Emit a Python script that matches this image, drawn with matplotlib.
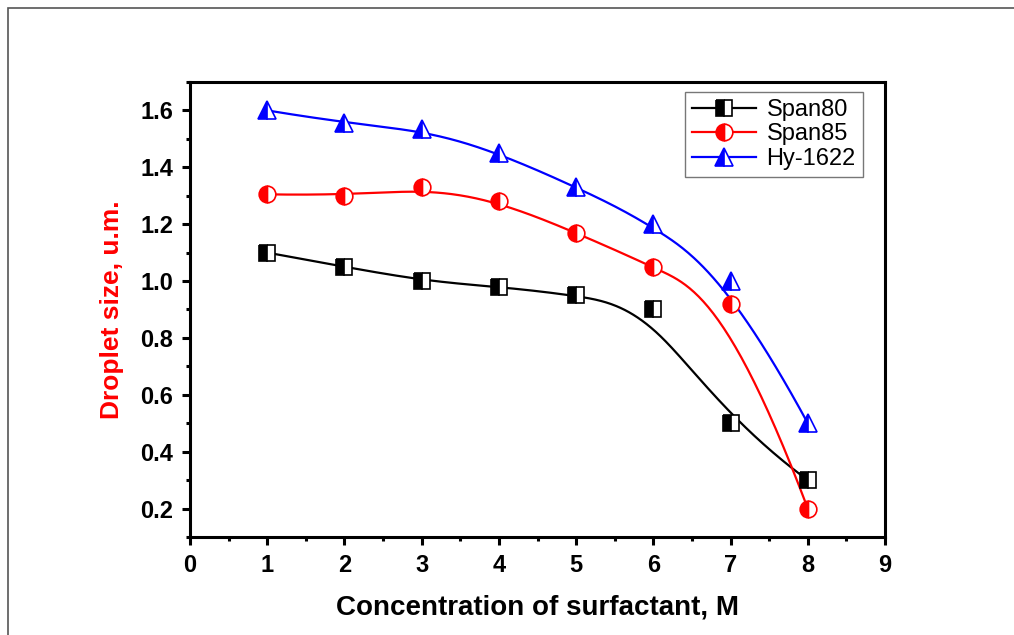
import numpy as np
import matplotlib
matplotlib.use('Agg')
import matplotlib.pyplot as plt
import matplotlib.patches as mpatches

plt.rcParams['font.family'] = ['Liberation Sans', 'DejaVu Sans']

# data
conc = [1, 2, 3, 4, 5, 6, 7, 8]
span80 = [1.10, 1.05, 1.00, 0.98, 0.95, 0.90, 0.50, 0.30]
span85 = [1.305, 1.30, 1.33, 1.28, 1.17, 1.05, 0.92, 0.20]
hy1622 = [1.60, 1.555, 1.535, 1.45, 1.33, 1.20, 1.00, 0.50]


def bspline(px, py, n=400):
    # clamped cubic B-spline using the data points as control points
    px = np.asarray(px, float)
    py = np.asarray(py, float)
    k = 3
    m = len(px)
    knots = np.concatenate([np.zeros(k), np.arange(m - k + 1), np.full(k, m - k)])
    t = np.linspace(0, m - k, n)
    t[-1] -= 1e-9

    def basis(i, p, t):
        if p == 0:
            return ((knots[i] <= t) & (t < knots[i + 1])).astype(float)
        a = 0.0
        d1 = knots[i + p] - knots[i]
        if d1 > 0:
            a = (t - knots[i]) / d1 * basis(i, p - 1, t)
        b = 0.0
        d2 = knots[i + p + 1] - knots[i + 1]
        if d2 > 0:
            b = (knots[i + p + 1] - t) / d2 * basis(i + 1, p - 1, t)
        return a + b

    B = np.array([basis(i, k, t) for i in range(m)])
    return px @ B, py @ B


fig = plt.figure(figsize=(10.14, 6.35), dpi=100)
ax = fig.add_axes([0.1874, 0.1543, 0.6854, 0.7166])

# outer frame
fig.patches.append(mpatches.Rectangle((8 / 1014, -0.1), 1.2, 1 - 8 / 635 + 0.1,
                                      transform=fig.transFigure, fill=False,
                                      edgecolor='#555555', linewidth=1.2))

series = [
    (span80, 'black', 's', 'Span80', 11),
    (span85, 'red', 'o', 'Span85', 12),
    (hy1622, 'blue', '^', 'Hy-1622', 13),
]
handles = []
for ys, col, mk, lab, ms in series:
    sx, sy = bspline(conc, ys)
    ax.plot(sx, sy, color=col, lw=1.6, zorder=2)
    ax.plot(conc, ys, linestyle='none', marker=mk, markersize=ms,
            color=col, markeredgecolor=col, fillstyle='left',
            markerfacecoloralt='white', markeredgewidth=1.2, zorder=3)
    h, = ax.plot([], [], color=col, lw=1.6, marker=mk, markersize=ms,
                 markeredgecolor=col, fillstyle='left',
                 markerfacecoloralt='white', markeredgewidth=1.2, label=lab)
    handles.append(h)

ax.set_xlim(0, 9)
ax.set_ylim(0.1, 1.7)
ax.set_xticks(range(0, 10))
ax.set_yticks([0.2, 0.4, 0.6, 0.8, 1.0, 1.2, 1.4, 1.6])
ax.set_xticks(np.arange(0.5, 9, 1.0), minor=True)
ax.set_yticks(np.arange(0.1, 1.75, 0.2), minor=True)
ax.tick_params(which='major', direction='out', length=6, width=2.2,
               labelsize=17, pad=6, top=False, right=False)
ax.tick_params(which='minor', direction='out', length=3, width=2.2,
               top=False, right=False)
for lbl in ax.get_xticklabels() + ax.get_yticklabels():
    lbl.set_fontweight('bold')
for s in ax.spines.values():
    s.set_linewidth(2.2)

ax.set_xlabel('Concentration of surfactant, M', fontsize=20, fontweight='bold', labelpad=13)
ax.set_ylabel('Droplet size, u.m.', fontsize=19, fontweight='bold', color='red', labelpad=12)

leg = ax.legend(handles=handles, loc='upper right', bbox_to_anchor=(0.968, 0.978),
                fontsize=17, frameon=True, fancybox=False, handlelength=2.7,
                borderpad=0.3, labelspacing=0.1, handletextpad=0.45,
                borderaxespad=0.0)
leg.get_frame().set_edgecolor('#555555')
leg.get_frame().set_linewidth(1.0)

fig.savefig('out.png', dpi=100)
